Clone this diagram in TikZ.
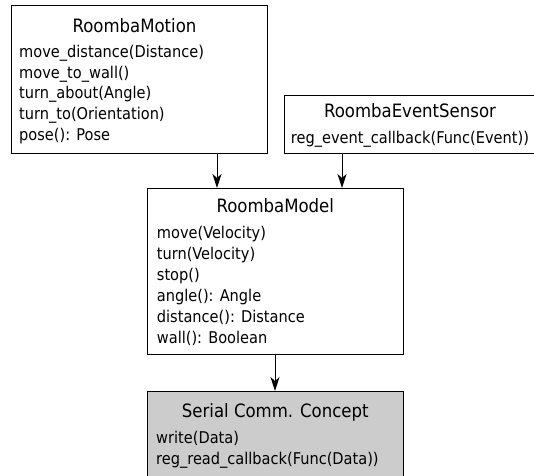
\documentclass[tikz,border=0pt]{standalone}
\usepackage{fontspec}
\setmainfont{DejaVu Sans Condensed}
\usetikzlibrary{arrows.meta,calc}
\definecolor{boxgray}{HTML}{CCCCCC}
\tikzset{
 umlbox/.style={draw=black, line width=1pt, anchor=north west, inner sep=0pt, outer sep=0pt},
 ttl/.style={font=\fontsize{18.4}{22}\selectfont, anchor=base, inner sep=0pt},
 mth/.style={font=\fontsize{16.2}{21}\selectfont, anchor=base west, inner sep=0pt},
 arr/.style={draw=black, line width=1pt, -{Stealth[length=14pt,width=9pt,inset=4pt]}}
}
\begin{document}
\begin{tikzpicture}[x=1pt,y=-1pt]
\useasboundingbox (0,0) rectangle (534,475);
% boxes
\node[umlbox, minimum width=255.5pt, minimum height=147.5pt] (motion) at (11.5,5.5) {};
\node[umlbox, minimum width=262pt, minimum height=58pt] (sensor) at (284,95) {};
\node[umlbox, minimum width=255.5pt, minimum height=166pt] (model) at (147.5,188) {};
\node[umlbox, fill=boxgray, minimum width=255.5pt, minimum height=100pt] (serial) at (147.5,391) {};
% RoombaMotion
\node[ttl] (motionT) at (134.5,32) {RoombaMotion};
\node[mth] (m1) at (19,57.3) {move\_distance(Distance)};
\node[mth] (m2) at (19,78) {move\_to\_wall()};
\node[mth] (m3) at (19,98.6) {turn\_about(Angle)};
\node[mth] (m4) at (19,119.3) {turn\_to(Orientation)};
\node[mth] (m5) at (19,140) {pose(): Pose};
% RoombaEventSensor
\node[ttl] (sensorT) at (410,117.7) {RoombaEventSensor};
\node[mth] (s1) at (290.7,143) {reg\_event\_callback(Func(Event))};
% RoombaModel
\node[ttl] (modelT) at (275.3,212.3) {RoombaModel};
\node[mth] (r1) at (156.7,238.3) {move(Velocity)};
\node[mth] (r2) at (156.7,259.3) {turn(Velocity)};
\node[mth] (r3) at (156.7,280.3) {stop()};
\node[mth] (r4) at (156.7,301.3) {angle(): Angle};
\node[mth] (r5) at (156.7,322.3) {distance(): Distance};
\node[mth] (r6) at (156.7,343.3) {wall(): Boolean};
% Serial
\node[ttl] (serialT) at (275.3,417.3) {Serial Comm. Concept};
\node[mth] (c1) at (156,443.5) {write(Data)};
\node[mth] (c2) at (156,464) {reg\_read\_callback(Func(Data))};
% connectors
\coordinate (a1) at (217,0);
\coordinate (a2) at (342,0);
\coordinate (a3) at (275,0);
\draw[arr] (motion.south -| a1) -- (model.north -| a1);
\draw[arr] (sensor.south -| a2) -- (model.north -| a2);
\draw[arr] (model.south -| a3) -- (serial.north -| a3);
\end{tikzpicture}
\end{document}
